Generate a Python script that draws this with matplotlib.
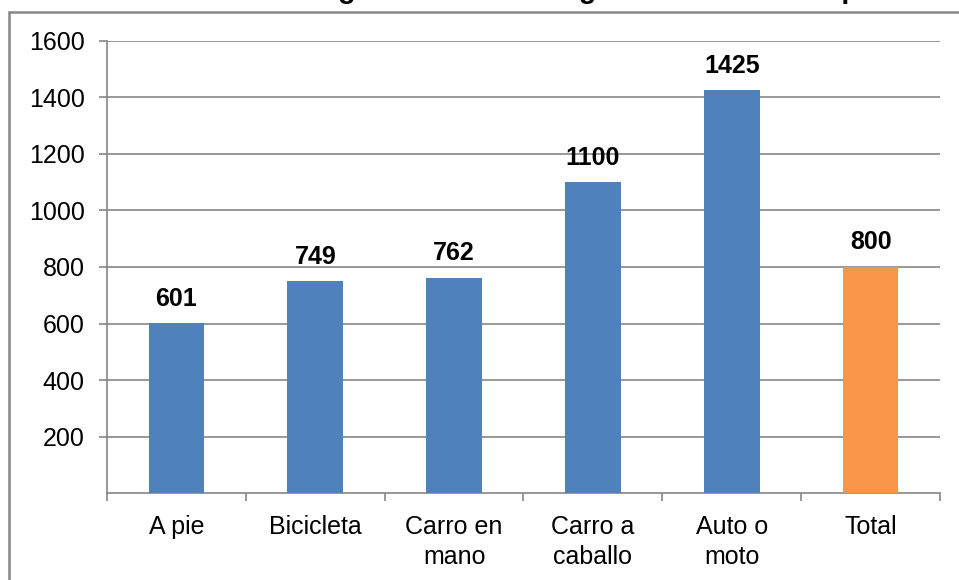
import matplotlib
matplotlib.use("Agg")
import matplotlib.pyplot as plt
from matplotlib.patches import Rectangle

categories = ["A pie", "Bicicleta", "Carro en\nmano", "Carro a\ncaballo", "Auto o\nmoto", "Total"]
values = [601, 749, 762, 1100, 1425, 800]
colors = ["#4F81BD", "#4F81BD", "#4F81BD", "#4F81BD", "#4F81BD", "#F79646"]
yticks = [200, 400, 600, 800, 1000, 1200, 1400, 1600]
title = "Ingreso mensual según medio de transporte"

plt.rcParams['font.family'] = ['Liberation Sans', 'DejaVu Sans']
W, H = 959, 580
fig = plt.figure(figsize=(W / 100, H / 100), dpi=100)
grid_c = "#868686"

# outer chart border (extends past right/bottom edges)
fig.patches.append(Rectangle((9 / W, -0.1), 1.2, 1 - 12 / H + 0.1, transform=fig.transFigure,
                             fill=False, edgecolor=grid_c, linewidth=1.8, zorder=0))
# cropped title (only descenders visible, as in the reference)
fig.text(313 / W, 1 + 2.5 / H, title, ha='left', va='baseline', fontsize=20.5, fontweight='bold')

ax = fig.add_axes([107 / W, 1 - 493 / H, (940 - 107) / W, (493 - 41) / H])
x = list(range(len(categories)))
bars = ax.bar(x, values, width=0.4, color=colors, zorder=3)
ax.set_xlim(-0.5, len(categories) - 0.5)
ax.set_ylim(0, 1600)
ax.set_yticks(yticks)
ax.set_yticklabels([str(t) for t in yticks], fontsize=18)
ax.yaxis.grid(True, color=grid_c, linewidth=1.2, zorder=0)
ax.set_xticks(x)
ax.set_xticklabels(categories, fontsize=18, linespacing=1.3)
ax.set_xticks([i - 0.5 for i in range(len(categories) + 1)], minor=True)
ax.tick_params(axis='x', which='major', length=0, pad=16)
ax.tick_params(axis='x', which='minor', length=6, width=1.2, color=grid_c, direction='out')
ax.tick_params(axis='y', length=6, width=1.2, color=grid_c, direction='out', pad=10)
for s in ['top', 'right']:
    ax.spines[s].set_visible(False)
for s in ['left', 'bottom']:
    ax.spines[s].set_color(grid_c)
    ax.spines[s].set_linewidth(1.2)

for b, v in zip(bars, values):
    ax.annotate(str(v), (b.get_x() + b.get_width() / 2, v), xytext=(0, 9),
                textcoords='offset points', ha='center', va='bottom',
                fontsize=18, fontweight='bold')

fig.savefig("out.png", dpi=100)
